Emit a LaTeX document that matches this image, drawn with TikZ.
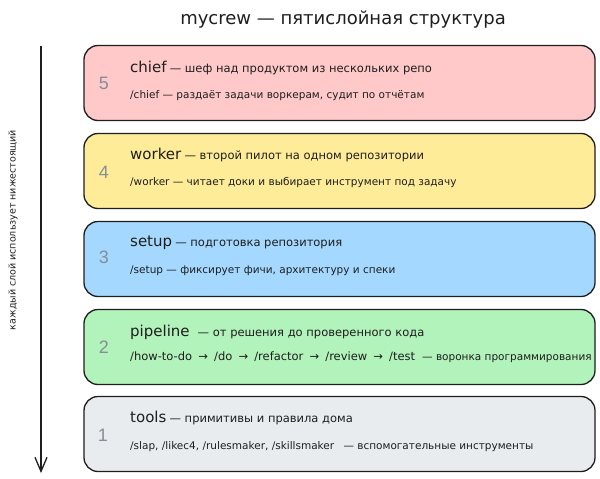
\documentclass[tikz,border=0pt]{standalone}
\usepackage{fontspec}
\setmainfont{DejaVu Sans}
\newfontfamily\numfont{Liberation Sans}
\usetikzlibrary{arrows.meta}
\definecolor{ink}{HTML}{1E1E1E}
\definecolor{numgray}{HTML}{868E96}
\definecolor{fpink}{HTML}{FFC9C9}
\definecolor{fyellow}{HTML}{FFEC99}
\definecolor{fblue}{HTML}{A5D8FF}
\definecolor{fgreen}{HTML}{B2F2BB}
\definecolor{fgray}{HTML}{E9ECEF}
\newcommand{\hd}[1]{{\fontsize{15}{15}\selectfont #1}}
\newcommand{\ds}[1]{{\fontsize{11.5}{12}\selectfont #1}}
\newcommand{\arr}{\hspace{2.5pt} → \hspace{2.5pt}}
\begin{document}
\begin{tikzpicture}[x=1pt,y=-1pt,
  layerbox/.style={draw=ink, line width=1.3pt, rounded corners=14pt,
    minimum width=511pt, minimum height=75pt, inner sep=0pt},
  numtxt/.style={font=\numfont\fontsize{18}{18}\selectfont, text=numgray, inner sep=0pt},
  lineone/.style={anchor=west, inner sep=0pt, text=ink},
  linetwo/.style={anchor=west, inner sep=0pt, text=ink, font=\fontsize{10.5}{12}\selectfont},
]
\useasboundingbox (0,0) rectangle (600,479);
% title
\node[text=ink, font=\fontsize{18}{20}\selectfont] (title) at (343,20) {mycrew — пятислойная структура};
% left arrow
\coordinate (atop) at (41,46);
\coordinate (abot) at (41,473);
\draw[ink, line width=1.3pt, -{Straight Barb[length=14pt,width=12pt,line width=1.3pt]}] (atop) -- (abot);
\node[rotate=90, text=ink, font=\fontsize{9.5}{10}\selectfont] (side) at (13,230) {каждый слой использует нижестоящий};
% boxes
\node[layerbox, fill=fpink]   (l5) at (339.5,83) {};
\node[layerbox, fill=fyellow] (l4) at (339.5,171) {};
\node[layerbox, fill=fblue]   (l3) at (339.5,259) {};
\node[layerbox, fill=fgreen]  (l2) at (339.5,347) {};
\node[layerbox, fill=fgray]   (l1) at (339.5,434) {};
% numbers
\node[numtxt] (n5) at (104,83) {5};
\node[numtxt] (n4) at (104,172) {4};
\node[numtxt] (n3) at (104,257) {3};
\node[numtxt] (n2) at (104,347) {2};
\node[numtxt] (n1) at (103,435) {1};
% texts
\node[lineone] (t5a) at (130,68) {\hd{chief} \ds{— шеф над продуктом из нескольких репо}};
\node[linetwo] (t5b) at (130,96) {/chief — раздаёт задачи воркерам, судит по отчётам};
\node[lineone] (t4a) at (130,155) {\hd{worker} \ds{— второй пилот на одном репозитории}};
\node[linetwo] (t4b) at (130,183) {/worker — читает доки и выбирает инструмент под задачу};
\node[lineone] (t3a) at (130,243) {\hd{setup} \ds{— подготовка репозитория}};
\node[linetwo] (t3b) at (130,271) {/setup — фиксирует фичи, архитектуру и спеки};
\node[lineone] (t2a) at (130,332) {\hd{pipeline}\hspace{8pt}\ds{— от решения до проверенного кода}};
\node[linetwo] (t2b) at (130,357) {{\fontsize{11.5}{12}\selectfont /how-to-do\arr/do\arr/refactor\arr/review\arr/test}\hspace{7pt}— воронка программирования};
\node[lineone] (t1a) at (130,418) {\hd{tools} \ds{— примитивы и правила дома}};
\node[linetwo] (t1b) at (130,447) {/slap, /likec4, /rulesmaker, /skillsmaker\hspace{6pt} — вспомогательные инструменты};
\end{tikzpicture}
\end{document}
